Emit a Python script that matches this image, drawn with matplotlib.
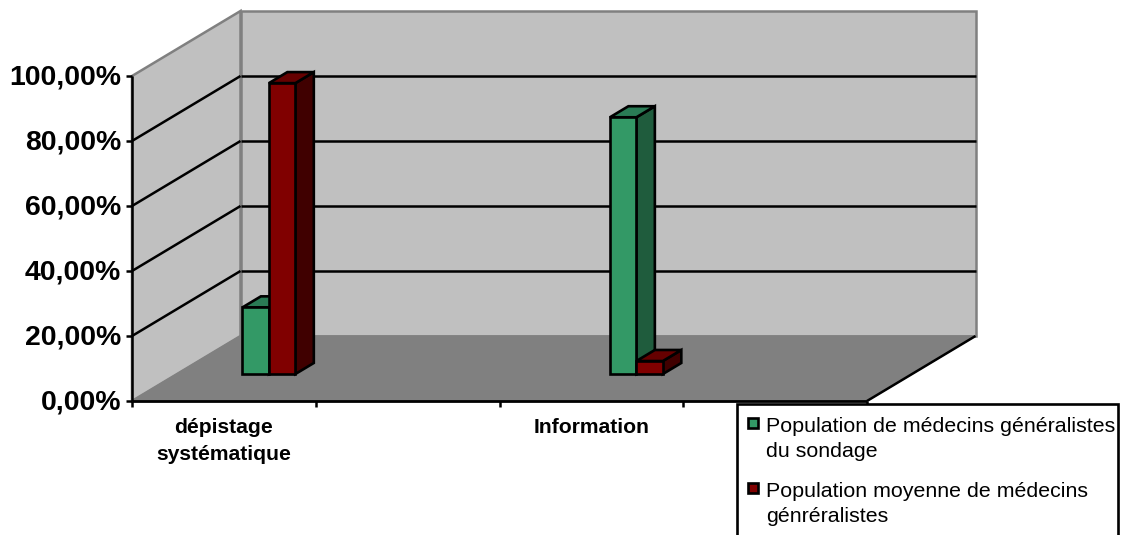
"""3D-style clustered column chart built from flat polygons"""

import matplotlib
matplotlib.use('Agg')
from matplotlib import pyplot as plt
from matplotlib.patches import Polygon, Rectangle

plt.rcParams['font.family'] = ['Liberation Sans', 'DejaVu Sans']

categories = ['dépistage\nsystématique', 'Information']
category_slots = [0, 2]
n_slots = 4
sondage = [20.5, 79.0]
moyenne = [89.5, 4.0]
series_names = ['Population de médecins généralistes\ndu sondage',
                'Population moyenne de médecins\ngénréralistes']
y_ticks = [0, 20, 40, 60, 80, 100]
y_tick_labels = ['0,00%', '20,00%', '40,00%', '60,00%', '80,00%', '100,00%']

GREEN = ('#339966', '#2A7B55', '#1F5C3D')
RED = ('#800000', '#660000', '#400000')

# projection of the box: slot along x, value up, depth in 0..1 going back
X0, Y0 = 132, 401
SLOT_W = 183.75
PX_PER_PCT = 3.25
DEPTH_X, DEPTH_Y = 108.5, -65


def pt(slot, value, depth=0.0):
    return (X0 + slot * SLOT_W + depth * DEPTH_X,
            Y0 - value * PX_PER_PCT + depth * DEPTH_Y)


fig = plt.figure(figsize=(11.23, 5.35), dpi=100)
ax = fig.add_axes([0, 0, 1, 1])
ax.set_xlim(0, 1123)
ax.set_ylim(535, 0)
ax.axis('off')


def poly(points, color, edge='k', lw=1.9, z=1):
    ax.add_patch(Polygon(points, closed=True, fc=color, ec=edge, lw=lw,
                         joinstyle='miter', zorder=z))


def line(a, b, color='k', lw=1.8, z=2):
    ax.plot([a[0], b[0]], [a[1], b[1]], color=color, lw=lw, zorder=z,
            solid_capstyle='butt')


# walls and floor
poly([pt(0, 0), pt(0, 0, 1), pt(0, 100, 1), pt(0, 100)], '#C0C0C0', '#808080', 1.8)
poly([pt(0, 0, 1), pt(n_slots, 0, 1), pt(n_slots, 100, 1), pt(0, 100, 1)], '#C0C0C0', '#808080', 1.8)
poly([pt(0, 0), pt(n_slots, 0), pt(n_slots, 0, 1), pt(0, 0, 1)], '#808080', '#808080', 1.0)

# gridlines run along the left wall and across the back wall
for v in y_ticks[1:-1]:
    line(pt(0, v), pt(0, v, 1))
    line(pt(0, v, 1), pt(n_slots, v, 1))

# axis lines and ticks
line(pt(0, 0), pt(0, 100), z=3)
line(pt(0, 0), pt(n_slots, 0), lw=2.0, z=3)
line(pt(n_slots, 0), pt(n_slots, 0, 1), z=3)
for v, lab in zip(y_ticks, y_tick_labels):
    x, y = pt(0, v)
    line((x - 6, y), (x, y), z=3)
    ax.text(x - 11, y + 1.5, lab, ha='right', va='center', fontsize=20.4, fontweight='bold')
for s in range(n_slots + 1):
    x, y = pt(s, 0)
    line((x, y), (x, y + 6), z=3)

for slot, lab in zip(category_slots, categories):
    x, _ = pt(slot + 0.5, 0)
    ax.text(x, 418, lab, ha='center', va='top', fontsize=15.2, fontweight='bold', linespacing=1.55)

# columns
BAR_W = 0.144
BAR_D0, BAR_D1 = 0.415, 0.585


def column(left, value, colors, z):
    right = left + BAR_W
    poly([pt(right, 0, BAR_D0), pt(right, 0, BAR_D1), pt(right, value, BAR_D1), pt(right, value, BAR_D0)],
         colors[2], z=z)
    poly([pt(left, value, BAR_D0), pt(right, value, BAR_D0), pt(right, value, BAR_D1), pt(left, value, BAR_D1)],
         colors[1], z=z)
    poly([pt(left, 0, BAR_D0), pt(right, 0, BAR_D0), pt(right, value, BAR_D0), pt(left, value, BAR_D0)],
         colors[0], z=z)


for i, slot in enumerate(category_slots):
    mid = slot + 0.5
    column(mid - BAR_W, sondage[i], GREEN, 4 + i * 2)
    column(mid, moyenne[i], RED, 5 + i * 2)

# legend box runs off the bottom edge of the figure
ax.add_patch(Rectangle((737, 404), 381, 140, fc='white', ec='k', lw=1.9, zorder=10))
for sy, name, col in zip([418, 483], series_names, [GREEN[0], RED[0]]):
    ax.add_patch(Rectangle((747.5, sy), 10, 10, fc=col, ec='k', lw=1.9, zorder=11))
    ax.text(766, sy - 1, name, ha='left', va='top', fontsize=15.4, linespacing=1.38, zorder=11)

fig.savefig('out.png', dpi=100)
